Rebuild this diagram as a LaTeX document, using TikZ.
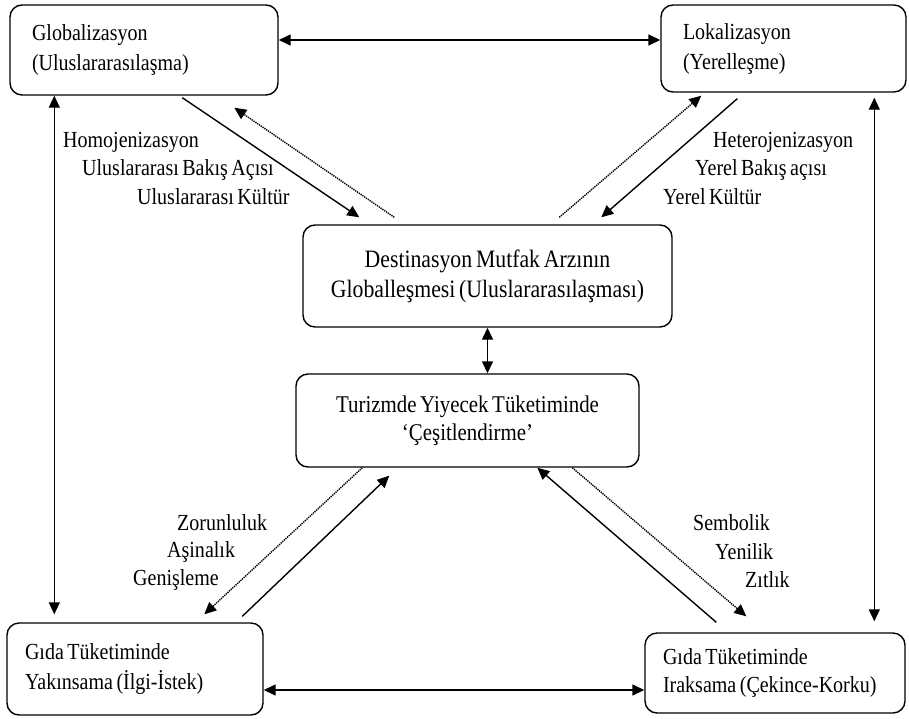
\documentclass[tikz,border=0pt]{standalone}
\usepackage{fontspec}
\setmainfont{Liberation Serif}[FakeStretch=0.87, WordSpace=0.7]
\usetikzlibrary{arrows.meta,calc}
\begin{document}
\begin{tikzpicture}[x=1pt,y=-1pt,
  box/.style={draw, line width=1.4pt, rounded corners=12pt, inner ysep=0pt},
  lbox/.style={box, align=flush left},
  cbox/.style={box, align=flush center},
  tip/.style={-{Triangle[length=12pt,width=11pt]}},
  link/.style={line width=1.4pt, tip},
  twoway/.style={line width=1.4pt, {Triangle[length=12pt,width=11pt]}-{Triangle[length=12pt,width=11pt]}},
  back/.style={line width=1.4pt, dash pattern=on 1.3pt off 0.9pt, tip},
  cue/.style={anchor=west, inner sep=0pt, font=\fontsize{23}{26}\selectfont},
]
\useasboundingbox (0,0) rectangle (909,718);

% boxes
\node[lbox, minimum height=90pt, text width=224pt, inner xsep=22pt,
      font=\fontsize{23}{30}\selectfont] (glob) at (144,50)
  {Globalizasyon\\(Uluslararasılaşma)};
\node[lbox, minimum height=87pt, text width=201pt, inner xsep=22pt,
      font=\fontsize{23}{30}\selectfont] (lok) at (783.5,48.5)
  {Lokalizasyon\\(Yerelleşme)};
\node[cbox, minimum height=102pt, minimum width=369pt,
      font=\fontsize{25}{30}\selectfont] (dest) at (487.5,276)
  {Destinasyon Mutfak Arzının\\Globalleşmesi (Uluslararasılaşması)};
\node[cbox, minimum height=93pt, minimum width=343pt,
      font=\fontsize{24}{28}\selectfont] (tur) at (467.5,420.5)
  {Turizmde Yiyecek Tüketiminde\\‘Çeşitlendirme’};
\node[lbox, minimum height=92pt, text width=220pt, inner xsep=18pt,
      font=\fontsize{23}{30}\selectfont] (yak) at (135,669)
  {Gıda Tüketiminde\\Yakınsama (İlgi-İstek)};
\node[lbox, minimum height=80pt, text width=224pt, inner xsep=18pt,
      font=\fontsize{23}{28}\selectfont] (irak) at (775,673)
  {Gıda Tüketiminde\\Iraksama (Çekince-Korku)};

% frame connectors
\coordinate (t1) at ([yshift=10pt]glob.east);
\draw[twoway] (t1) -- (t1 -| lok.west);
\coordinate (b1) at ([yshift=-21pt]yak.east);
\draw[twoway] (b1) -- (b1 -| irak.west);
\coordinate (l1) at ([xshift=45pt]glob.south west);
\draw[twoway, shorten >=8pt] (l1) -- (l1 |- yak.north);
\coordinate (r1) at ([xshift=214pt]lok.south west);
\draw[twoway, shorten <=5pt, shorten >=11pt] (r1) -- (r1 |- irak.north);
\draw[twoway] (dest.south) -- (dest.south |- tur.north);

% upper diagonals
\draw[link] ([xshift=173pt,yshift=-2pt]glob.south west) -- ([xshift=57pt,yshift=7pt]dest.north west);
\draw[back] ([xshift=92pt,yshift=7pt]dest.north west) -- ([xshift=225pt,yshift=-12pt]glob.south west);
\draw[back] ([xshift=257pt,yshift=7pt]dest.north west) -- ([xshift=41pt,yshift=-3pt]lok.south west);
\draw[link] ([xshift=77pt,yshift=-6pt]lok.south west) -- ([xshift=299pt,yshift=7pt]dest.north west);

% lower diagonals
\draw[link] ([xshift=236pt,yshift=6pt]yak.north west) -- ([xshift=94pt,yshift=-8pt]tur.south west);
\draw[back] ([xshift=67pt]tur.south west) -- ([xshift=198pt,yshift=8pt]yak.north west);
\draw[link] ([xshift=72pt,yshift=10pt]irak.north west) -- ([xshift=242pt]tur.south west);
\draw[back] ([xshift=277pt]tur.south west) -- ([xshift=102pt,yshift=16pt]irak.north west);

% labels along the diagonals
\node[cue] (h1) at (63,142) {Homojenizasyon};
\node[cue] (h2) at (82,170) {Uluslararası Bakış Açısı};
\node[cue] (h3) at (137,197) {Uluslararası Kültür};
\node[cue] (e1) at (713,142) {Heterojenizasyon};
\node[cue] (e2) at (695,170) {Yerel Bakış açısı};
\node[cue] (e3) at (663,197) {Yerel Kültür};
\node[cue] (z1) at (177,523) {Zorunluluk};
\node[cue] (z2) at (167,552) {Aşinalık};
\node[cue] (z3) at (133,580) {Genişleme};
\node[cue] (s1) at (693,523) {Sembolik};
\node[cue] (s2) at (715,552) {Yenilik};
\node[cue] (s3) at (745,580) {Zıtlık};
\end{tikzpicture}
\end{document}
